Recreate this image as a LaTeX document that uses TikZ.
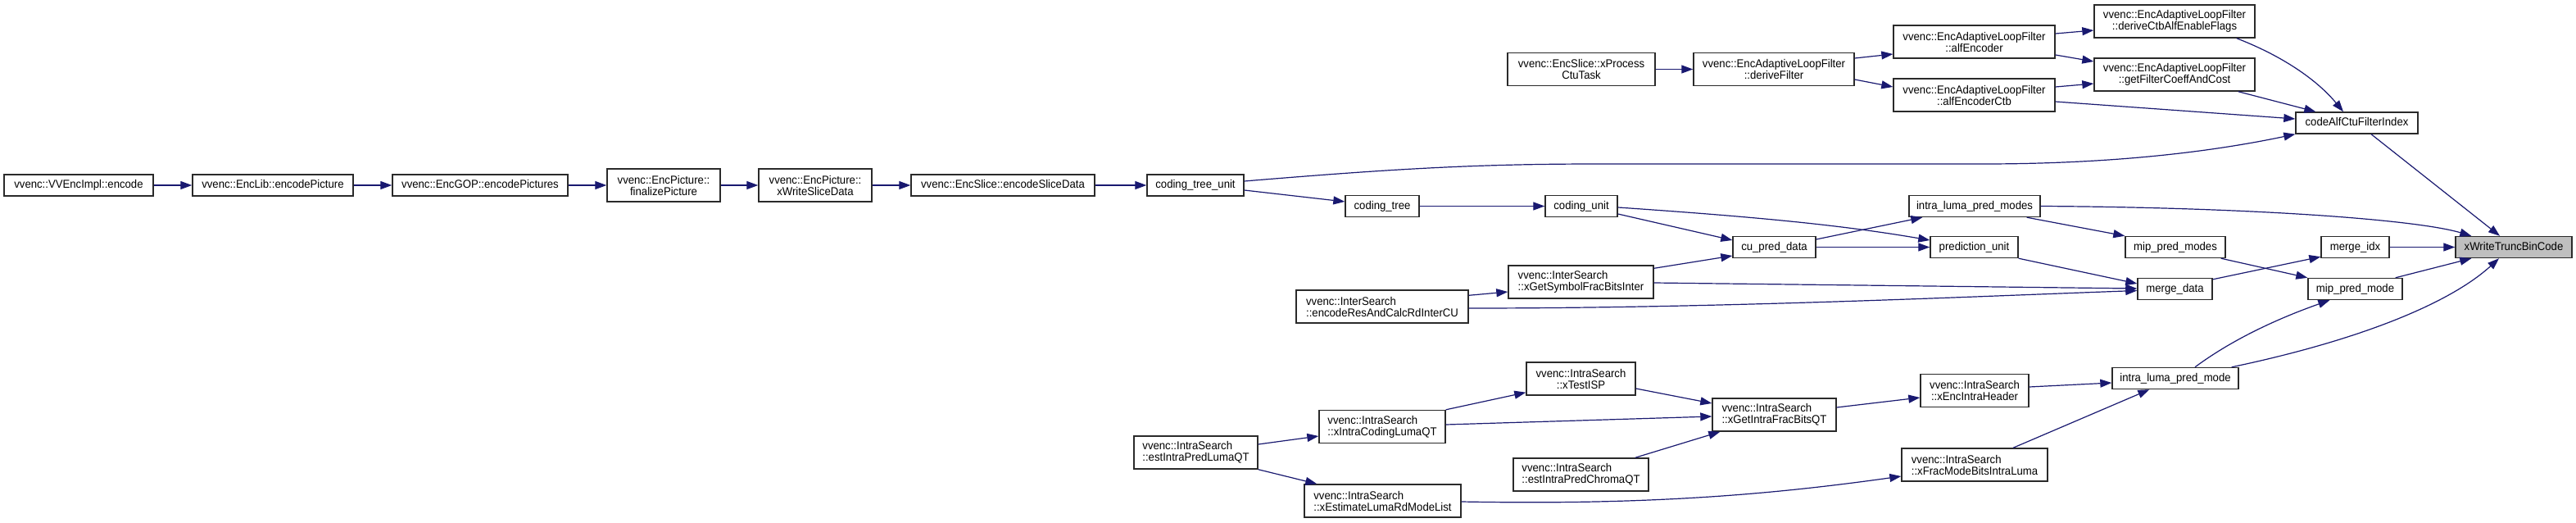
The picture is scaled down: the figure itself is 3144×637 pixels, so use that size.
\documentclass[tikz,border=0pt]{standalone}
\usepackage{fontspec}
\newfontfamily\dxfont[FakeStretch=0.94]{Liberation Sans}
\usetikzlibrary{arrows.meta}
\definecolor{edgeblue}{HTML}{191970}
\definecolor{boxline}{HTML}{2A2A2A}
\definecolor{hilite}{HTML}{BFBFBF}
\begin{document}
\begin{tikzpicture}[x=1pt,y=-1pt,
  fn/.style={draw=boxline,line width=1.4pt,fill=white,inner sep=0pt,
    font={\dxfont\fontsize{14pt}{14pt}\selectfont},minimum height=26pt},
  one/.style={fn,text height=10pt,text depth=3pt},
  two/.style={fn,minimum height=40pt},
  twoc/.style={two,align=center},
  twol/.style={two,align=left},
  ed/.style={draw=edgeblue,line width=1.2pt,-{Triangle[length=14pt,width=10pt]}}]
\fill[white] (0,0) rectangle (3144,637);
\useasboundingbox (0,0) rectangle (3144,637);

% main chain
\node[one,minimum width=182pt] (n1) at (96,226) {vvenc::VVEncImpl::encode};
\node[one,minimum width=196pt] (n2) at (333,226) {vvenc::EncLib::encodePicture};
\node[one,minimum width=214pt] (n3) at (586,226) {vvenc::EncGOP::encodePictures};
\node[twoc,minimum width=138pt] (n4) at (810,226) {vvenc::EncPicture::\\finalizePicture};
\node[twoc,minimum width=138pt] (n5) at (995,226) {vvenc::EncPicture::\\xWriteSliceData};
\node[one,minimum width=224pt] (n6) at (1224,226) {vvenc::EncSlice::encodeSliceData};
\node[one,minimum width=118pt] (n7) at (1459,226) {coding\_tree\_unit};

% ALF part
\node[twoc,minimum width=180pt] (n8) at (1930,84.5) {vvenc::EncSlice::xProcess\\CtuTask};
\node[twoc,minimum width=196pt] (n9) at (2165,84.5) {vvenc::EncAdaptiveLoopFilter\\::deriveFilter};
\node[twoc,minimum width=197pt] (n10) at (2409.5,51) {vvenc::EncAdaptiveLoopFilter\\::alfEncoder};
\node[twoc,minimum width=197pt] (n11) at (2409.5,116) {vvenc::EncAdaptiveLoopFilter\\::alfEncoderCtb};
\node[twoc,minimum width=196pt] (n12) at (2654,26) {vvenc::EncAdaptiveLoopFilter\\::deriveCtbAlfEnableFlags};
\node[twoc,minimum width=196pt] (n13) at (2654,91) {vvenc::EncAdaptiveLoopFilter\\::getFilterCoeffAndCost};
\node[one,minimum width=149pt] (n14) at (2876.5,150) {codeAlfCtuFilterIndex};

% coding tree part
\node[one,minimum width=90pt] (n15) at (1687,251.5) {coding\_tree};
\node[one,minimum width=88pt] (n16) at (1930,251.5) {coding\_unit};
\node[one,minimum width=101pt] (n17) at (2165.5,301.5) {cu\_pred\_data};
\node[one,minimum width=160pt] (n18) at (2410,251.5) {intra\_luma\_pred\_modes};
\node[one,minimum width=107pt] (n19) at (2409.5,301.5) {prediction\_unit};
\node[one,minimum width=122pt] (n20) at (2655,301.5) {mip\_pred\_modes};
\node[one,minimum width=83pt] (n21) at (2874.5,301.5) {merge\_idx};
\node[one,minimum width=142pt,fill=hilite] (n22) at (3068,301.5) {xWriteTruncBinCode};
\node[one,minimum width=91pt] (n23) at (2654.5,352.5) {merge\_data};
\node[one,minimum width=115pt] (n24) at (2874.5,352.5) {mip\_pred\_mode};

% search part
\node[twol,minimum width=177pt] (n25) at (1929.5,344) {vvenc::InterSearch\\::xGetSymbolFracBitsInter};
\node[twol,minimum width=210pt] (n26) at (1687,374) {vvenc::InterSearch\\::encodeResAndCalcRdInterCU};
\node[twoc,minimum width=133pt] (n27) at (1929.5,462) {vvenc::IntraSearch\\::xTestISP};
\node[twol,minimum width=154pt] (n28) at (1687,520.5) {vvenc::IntraSearch\\::xIntraCodingLumaQT};
\node[twol,minimum width=151pt] (n29) at (2165.5,506) {vvenc::IntraSearch\\::xGetIntraFracBitsQT};
\node[twol,minimum width=165pt] (n30) at (1929.5,579) {vvenc::IntraSearch\\::estIntraPredChromaQT};
\node[twol,minimum width=151pt] (n31) at (1459.5,552) {vvenc::IntraSearch\\::estIntraPredLumaQT};
\node[twol,minimum width=191pt] (n32) at (1687.5,611) {vvenc::IntraSearch\\::xEstimateLumaRdModeList};
\node[twoc,minimum width=132pt] (n33) at (2410,476.5) {vvenc::IntraSearch\\::xEncIntraHeader};
\node[twol,minimum width=178pt] (n34) at (2410,567) {vvenc::IntraSearch\\::xFracModeBitsIntraLuma};
\node[one,minimum width=154pt] (n35) at (2655,461.5) {intra\_luma\_pred\_mode};

% edges
\draw[ed] (n1.east) -- (n2.west);
\draw[ed] (n2.east) -- (n3.west);
\draw[ed] (n3.east) -- (n4.west);
\draw[ed] (n4.east) -- (n5.west);
\draw[ed] (n5.east) -- (n6.west);
\draw[ed] (n6.east) -- (n7.west);
\draw[ed] ([yshift=5pt]n7.east) .. controls (1700,206) and (1800,200) .. (1950,200) -- (2420,200) .. controls (2580,200) and (2700,185) .. (n14.south west);
\draw[ed] ([yshift=-6pt]n7.east) -- ([yshift=5.5pt]n15.west);
\draw[ed] (n8.east) -- (n9.west);
\draw[ed] ([yshift=13.5pt]n9.east) -- ([yshift=-15pt]n10.west);
\draw[ed] ([yshift=-12.5pt]n9.east) -- ([yshift=10pt]n11.west);
\draw[ed] ([yshift=10pt]n10.east) -- ([yshift=-11pt]n12.west);
\draw[ed] ([yshift=-16pt]n10.east) -- ([yshift=16pt]n13.west);
\draw[ed] ([yshift=10pt]n11.east) -- ([yshift=-11pt]n13.west);
\draw[ed] ([yshift=-8pt]n11.east) -- ([yshift=5pt]n14.west);
\draw[ed] ([xshift=-23pt]n12.south east) .. controls (2790,70) and (2830,100) .. ([xshift=-16.5pt]n14.north);
\draw[ed] ([xshift=-21pt]n13.south east) -- ([xshift=25pt]n14.north west);
\draw[ed] ([xshift=17.5pt]n14.south) -- ([xshift=-17pt]n22.north);
\draw[ed] (n15.east) -- (n16.west);
\draw[ed] ([yshift=-9.5pt]n16.east) -- ([yshift=8.5pt]n17.west);
\draw[ed] ([yshift=-1.5pt]n16.east) .. controls (2150,265) and (2250,275) .. ([yshift=8.5pt]n19.west);
\draw[ed] ([yshift=9.5pt]n17.east) -- ([xshift=17pt]n18.south west);
\draw[ed] (n17.east) -- (n19.west);
\draw[ed] ([yshift=-4pt]n25.north east) -- ([yshift=-10.5pt]n17.west);
\draw[ed] ([yshift=-7pt]n26.north east) -- ([yshift=-12pt]n25.west);
\draw[ed] ([yshift=-1pt]n25.east) -- ([yshift=0.5pt]n23.west);
\draw[ed] ([yshift=-2pt]n26.east) .. controls (2100,376) and (2400,362) .. ([yshift=-2pt]n23.west);
\draw[ed] (n19.south east) -- ([yshift=6.5pt]n23.west);
\draw[ed] (n18.east) .. controls (2750,253) and (2950,268) .. ([xshift=20pt]n22.north west);
\draw[ed] ([xshift=-17pt]n18.south east) -- (n20.north west);
\draw[ed] ([xshift=-6pt]n20.south east) -- (n24.north west);
\draw[ed] ([yshift=-2pt]n23.north east) -- ([yshift=2pt]n21.south west);
\draw[ed] (n21.east) -- (n22.west);
\draw[ed] ([xshift=-9pt]n24.north east) -- ([xshift=20pt]n22.south west);
\draw[ed] ([xshift=24pt]n35.north) .. controls (2730,410) and (2790,385) .. ([xshift=27pt]n24.south west);
\draw[ed] ([xshift=-9pt]n35.north east) .. controls (2880,415) and (2990,370) .. ([xshift=-18pt]n22.south);
\draw[ed] ([yshift=4.5pt]n33.east) -- ([yshift=-5.5pt]n35.west);
\draw[ed] ([xshift=47pt]n34.north) -- ([xshift=46pt]n35.south west);
\draw[ed] ([yshift=9pt]n29.east) -- ([yshift=-8.5pt]n33.west);
\draw[ed] ([yshift=-12pt]n27.east) -- ([yshift=14pt]n29.west);
\draw[ed] ([yshift=2.5pt]n28.east) -- ([yshift=-2pt]n29.west);
\draw[ed] ([xshift=-17pt]n30.north east) -- ([xshift=10pt]n29.south west);
\draw[ed] (n28.north east) -- ([yshift=4pt]n27.south west);
\draw[ed] ([yshift=10pt]n31.east) -- ([yshift=-11.5pt]n28.west);
\draw[ed] (n31.south east) -- ([xshift=16pt]n32.north west);
\draw[ed] ([yshift=-1pt]n32.east) .. controls (2000,616) and (2150,605) .. ([yshift=-14pt]n34.west);
\end{tikzpicture}
\end{document}
